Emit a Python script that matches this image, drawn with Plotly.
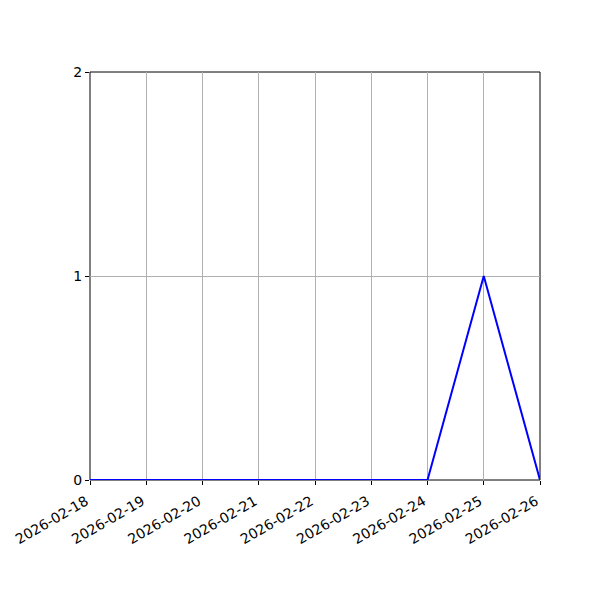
import plotly.graph_objects as go

dates = ['2026-02-18', '2026-02-19', '2026-02-20', '2026-02-21', '2026-02-22',
         '2026-02-23', '2026-02-24', '2026-02-25', '2026-02-26']
counts = [0, 0, 0, 0, 0, 0, 0, 1, 0]
y_ticks = [0, 1, 2]

fig = go.Figure(go.Scatter(x=dates, y=counts, mode='lines',
                           line=dict(color='blue', width=2)))

# page body has an 8px margin, so pull the plot back by that much
fig.update_layout(
    width=600, height=600,
    margin=dict(l=82, r=68, t=64, b=128, autoexpand=False),
    plot_bgcolor='white', paper_bgcolor='white',
    font=dict(family='DejaVu Sans', size=14, color='black'),
    showlegend=False,
)
fig.update_xaxes(
    type='date', range=[dates[0], dates[-1]], automargin=False,
    tickvals=dates, ticktext=dates, tickangle=-30,
    ticklabelshift=-4, ticklabelstandoff=3,
    showgrid=True, gridcolor='#b0b0b0', gridwidth=1,
    showline=False, ticks='outside', ticklen=4, tickcolor='black',
    zeroline=False,
)
fig.update_yaxes(
    range=[0, 2], tickvals=y_ticks, automargin=False,
    showgrid=True, gridcolor='#b0b0b0', gridwidth=1,
    showline=False, ticks='outside', ticklen=4, tickcolor='black',
    zeroline=False,
)
# axes frame under the trace so the blue line stays visible along 0
fig.add_shape(type='rect', xref='x domain', yref='y domain',
              x0=0, x1=1, y0=0, y1=1, layer='below',
              line=dict(color='black', width=1))

fig.write_html("out.html")
